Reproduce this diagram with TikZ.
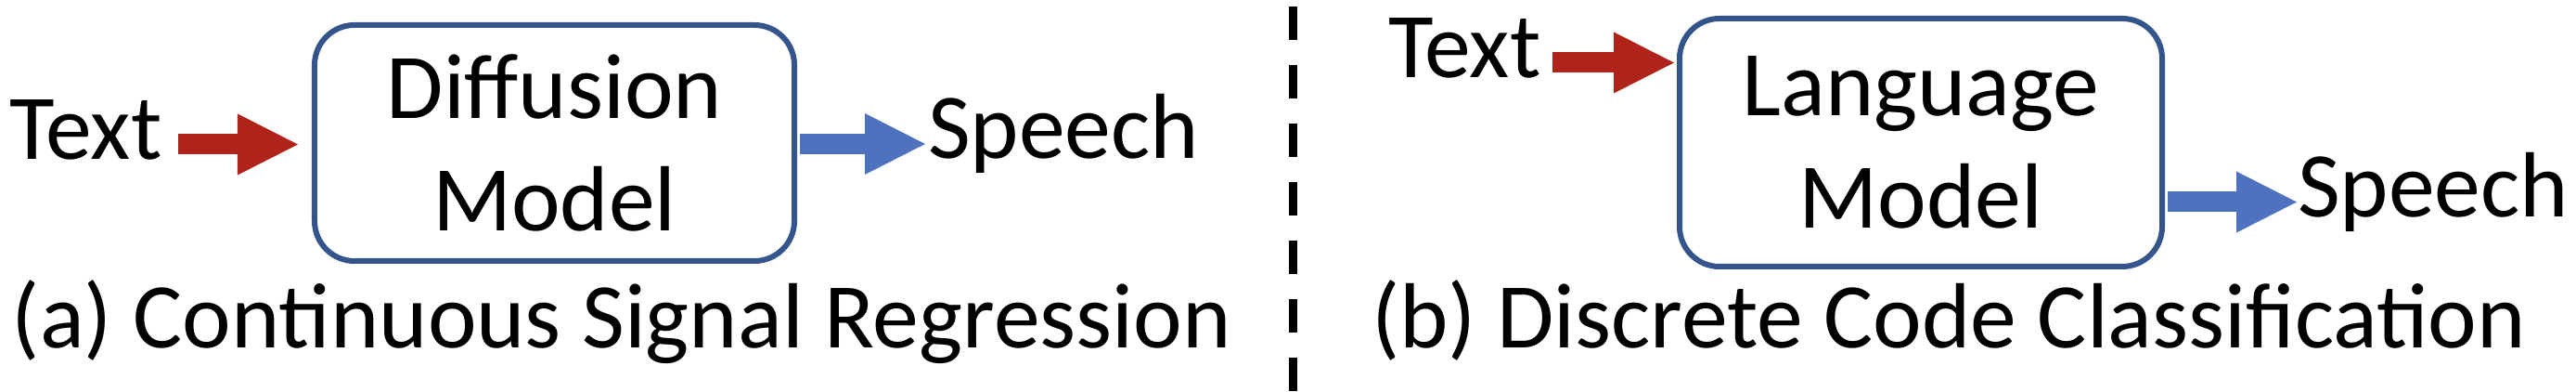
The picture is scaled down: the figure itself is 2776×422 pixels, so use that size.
\documentclass[tikz,border=0pt]{standalone}
\usepackage{fontspec}
\setmainfont{Carlito}
\usetikzlibrary{arrows.meta,calc}
\definecolor{redarr}{RGB}{175,35,27}
\definecolor{bluearr}{RGB}{79,114,190}
\definecolor{boxblue}{RGB}{52,84,140}
\begin{document}
\begin{tikzpicture}[x=0.2pt,y=-0.2pt,
  lbl/.style={font=\fontsize{19.94pt}{24.2pt}\selectfont, inner sep=0pt, text height=0.632em, text depth=0pt},
  modelbox/.style={draw=boxblue, line width=1.2pt, rounded corners=8.6pt, font=\fontsize{19.94pt}{24.2pt}\selectfont, align=center, inner sep=0pt},
  blockarrow/.style={line width=4.4pt, -{Triangle[width=13.2pt,length=13pt,line width=0pt]}},
]
\useasboundingbox (0,0) rectangle (2776,422);
% panel (a)
\node[lbl, anchor=west] (txta) at (9,155.5) {Text};
\node[modelbox, minimum width=103.4pt, minimum height=50.8pt] (dm) at (597.5,154) {Diffusion\\Model};
\node[lbl, anchor=west] (spa) at (999,155) {Speech};
\draw[blockarrow, redarr] ($(txta.east)+(16,0)$) -- ($(dm.west |- txta.east)+(-15,0)$);
\draw[blockarrow, bluearr] ($(dm.east |- spa.west)+(3,0)$) -- ($(spa.west)+(-2,0)$);
\node[lbl, anchor=west] (capa) at (12,358.5) {(a) Continuous Signal Regression};
% divider
\draw[line width=1.8pt, dash pattern=on 7.2pt off 5.4pt] (1393.5,7) -- (1393.5,422);
% panel (b)
\node[lbl, anchor=west] (txtb) at (1495,67.5) {Text};
\node[modelbox, minimum width=104pt, minimum height=53.4pt] (lm) at (2070,153.5) {Language\\Model};
\node[lbl, anchor=west] (spb) at (2475,217.5) {Speech};
\draw[blockarrow, redarr] ($(txtb.east)+(11,0)$) -- ($(lm.west |- txtb.east)+(-3,0)$);
\draw[blockarrow, bluearr] ($(lm.east |- spb.west)+(3,0)$) -- (spb.west);
\node[lbl, anchor=west] (capb) at (1477,358.5) {(b) Discrete Code Classification};
\end{tikzpicture}
\end{document}
